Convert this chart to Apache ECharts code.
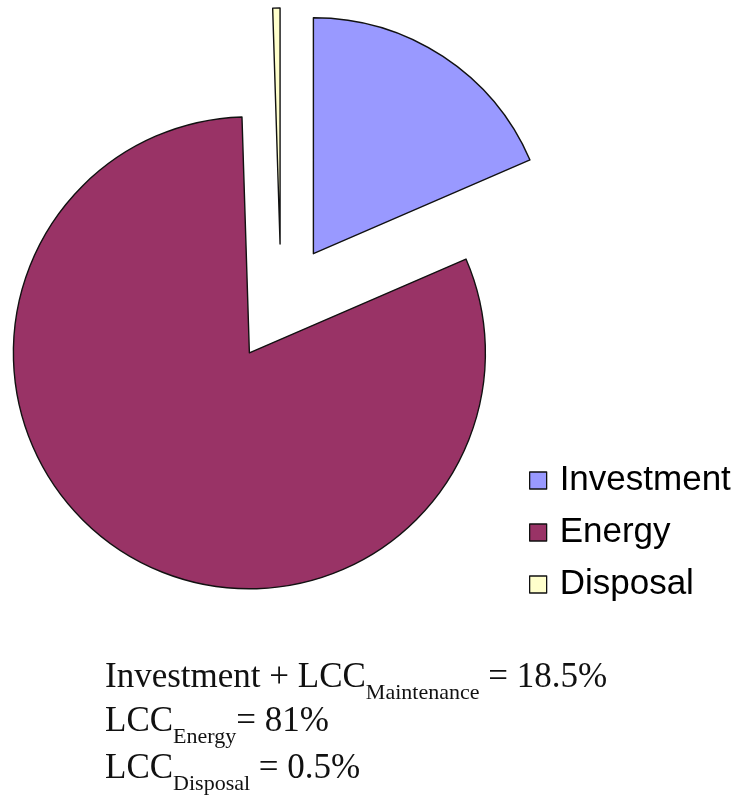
<!DOCTYPE html>
<html>
<head>
<meta charset="utf-8">
<script src="https://cdn.jsdelivr.net/npm/echarts@6/dist/echarts.min.js"></script>
<style>
  html, body { margin: 0; padding: 0; background: #ffffff; }
  #chart { width: 744px; height: 800px; }
</style>
</head>
<body>
<div id="chart"></div>
<script>
// Life-cycle cost shares (percent)
const categories = ['Investment', 'Energy', 'Disposal'];
const shares = [18.5, 81, 0.5];
const colors = ['#9999FF', '#993366', '#FFFFCC'];

// Summary lines printed under the pie: [main, subscript, tail]
const noteLines = [
  ['Investment + LCC', 'Maintenance', ' = 18.5%'],
  ['LCC', 'Energy', '= 81%'],
  ['LCC', 'Disposal', ' = 0.5%']
];
const noteTops = [660, 704, 751];

const chart = echarts.init(document.getElementById('chart'), null, { renderer: 'canvas' });

const pieData = categories.map((name, i) => ({
  name,
  value: shares[i],
  selected: true,
  itemStyle: { color: colors[i] }
}));

const serif = '"Liberation Serif", "Times New Roman", serif';
const noteGraphics = noteLines.map((ln, i) => ({
  type: 'text',
  left: 105,
  top: noteTops[i],
  silent: true,
  style: {
    text: '{m|' + ln[0] + '}{s|' + ln[1] + '}{m|' + ln[2] + '}',
    rich: {
      m: { fontFamily: serif, fontSize: 35, lineHeight: 40, fill: '#111', verticalAlign: 'top' },
      s: { fontFamily: serif, fontSize: 22, lineHeight: 26, fill: '#111', verticalAlign: 'top', padding: [22, 0, 0, 0] }
    }
  }
}));

chart.setOption({
  animation: false,
  backgroundColor: '#ffffff',
  legend: {
    orient: 'vertical',
    left: 524,
    top: 458,
    icon: 'rect',
    itemWidth: 17,
    itemHeight: 17,
    itemGap: 17,
    selectedMode: false,
    data: categories,
    itemStyle: { borderColor: '#111', borderWidth: 1.3 },
    textStyle: {
      fontFamily: '"Liberation Sans", Arial, sans-serif',
      fontSize: 35,
      color: '#000',
      padding: [0, 0, 0, 8]
    }
  },
  series: [{
    type: 'pie',
    center: [281, 303],
    radius: 236,
    startAngle: 90,
    clockwise: true,
    selectedMode: 'multiple',
    selectedOffset: 59,
    silent: true,
    label: { show: false },
    labelLine: { show: false },
    itemStyle: { borderColor: '#111', borderWidth: 1.4 },
    select: { itemStyle: { borderColor: '#111', borderWidth: 1.4 } },
    emphasis: { disabled: true },
    data: pieData
  }],
  graphic: noteGraphics
});
</script>
</body>
</html>
